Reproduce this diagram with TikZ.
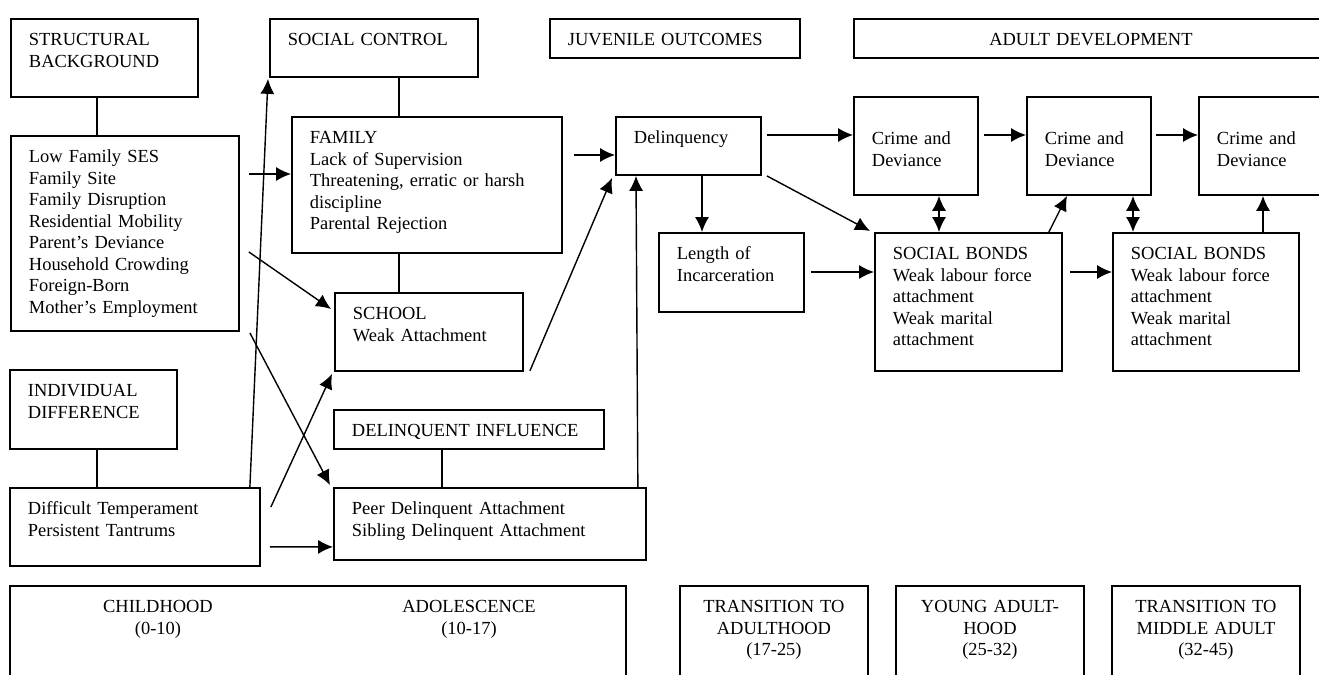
\documentclass[tikz,border=0pt]{standalone}
\usepackage{fontspec}
\setmainfont{Liberation Serif}
\usetikzlibrary{arrows.meta,calc}

\begin{document}
\begin{tikzpicture}[x=0.02cm,y=-0.02cm,line width=0.8pt,>={Latex[length=8.5pt,width=8pt]},
	every node/.style={font=\fontsize{10.5pt}{12.2pt}\selectfont},
	box/.style={draw,line width=1.1pt,anchor=north west,align=left,inner xsep=0.36cm,inner ysep=0pt,text height=0.54cm},
	cbox/.style={box,align=center}]
	\useasboundingbox (0,0) rectangle (1319,675);
	\node[box,text width=3.02cm,text depth=1.02cm] (1) at (10,18) {STRUCTURAL\\BACKGROUND};
	\node[box,text width=3.84cm,text depth=3.36cm] (2) at (10,135) {Low Family SES\\Family Site\\Family Disruption\\Residential Mobility\\Parent's Deviance\\Household Crowding\\Foreign-Born\\Mother's Employment};
	\node[box,text width=3.44cm,text depth=0.62cm] (3) at (269,18) {SOCIAL CONTROL};
	\node[box,text width=4.68cm,text depth=2.18cm] (4) at (291,116) {FAMILY\\Lack of Supervision\\Threatening, erratic or harsh\\discipline\\Parental Rejection};
	\node[box,text width=3.04cm,text depth=1.02cm] (5) at (334,292) {SCHOOL\\Weak Attachment};
	\node[box,text width=2.62cm,text depth=1.04cm] (6) at (9,369) {INDIVIDUAL\\DIFFERENCE};
	\node[box,text width=4.28cm,text depth=1.02cm] (7) at (9,487) {Difficult Temperament\\Persistent Tantrums};
	\node[box,text width=4.68cm,text depth=0.24cm] (8) at (333,409) {DELINQUENT INFLUENCE};
	\node[box,text width=5.52cm,text depth=0.90cm] (9) at (333,487) {Peer Delinquent Attachment\\Sibling Delinquent Attachment};
	\node[box,text width=4.28cm,text depth=0.24cm] (10) at (549,18) {JUVENILE OUTCOMES};
	\node[box,text width=2.18cm,text depth=0.62cm] (11) at (615,116) {Delinquency};
	\node[box,text width=2.18cm,text depth=1.04cm] (12) at (658,232) {Length of\\Incarceration};
	\node[cbox,text width=8.76cm,text depth=0.24cm] (13) at (853,18) {ADULT DEVELOPMENT};
	\node[box,text width=1.76cm,text height=0.96cm,text depth=1.0cm] (14) at (853,96) {Crime and\\Deviance};
	\node[box,text width=1.76cm,text height=0.96cm,text depth=1.0cm] (15) at (1026,96) {Crime and\\Deviance};
	\node[box,text width=1.76cm,text height=0.96cm,text depth=1.0cm] (16) at (1198,96) {Crime and\\Deviance};
	\node[box,text width=3.02cm,text depth=2.22cm] (17) at (874,232) {SOCIAL BONDS\\Weak labour force\\attachment\\Weak marital\\attachment};
	\node[box,text width=3.0cm,text depth=2.22cm] (18) at (1112,232) {SOCIAL BONDS\\Weak labour force\\attachment\\Weak marital\\attachment};
	% life stages
	\node[box,text width=11.6cm,text depth=1.46cm] (19) at (9,585) {};
	\node[align=center,anchor=base] (20) at (158,634) {CHILDHOOD\\(0-10)};
	\node[align=center,anchor=base] (21) at (469,634) {ADOLESCENCE\\(10-17)};
	\node[cbox,text width=3.04cm,text depth=1.46cm] (22) at (679,585) {TRANSITION TO\\ADULTHOOD\\(17-25)};
	\node[cbox,text width=3.04cm,text depth=1.46cm] (23) at (895,585) {YOUNG ADULT-\\HOOD\\(25-32)};
	\node[cbox,text width=3.04cm,text depth=1.46cm] (24) at (1111,585) {TRANSITION TO\\MIDDLE ADULT\\(32-45)};
	% links
	\draw [-] ($(1.south west)+(87,0)$)--($(2.north west)+(87,0)$);
	\draw [-] ($(3.south west)+(130,0)$)--($(4.north west)+(108,0)$);
	\draw [-] ($(4.south west)+(108,0)$)--($(5.north west)+(65,0)$);
	\draw [-] ($(6.south west)+(88,0)$)--($(7.north west)+(88,0)$);
	\draw [-] ($(8.south west)+(109,0)$)--($(9.north west)+(109,0)$);
	% arrows
	\draw [->] ($(2.north east)+(9,39)$)--($(4.north west)+(0,58)$);
	\draw [->] ($(2.north east)+(9,117)$)--($(5.north west)+(-3,17)$);
	\draw [->] ($(2.south east)+(10,1)$)--($(9.north west)+(-3,-2)$);
	\draw [->] ($(7.north east)+(-11,0)$)--($(3.south west)+(-1,1)$);
	\draw [->] ($(7.north east)+(10,20)$)--($(5.south west)+(-2,2)$);
	\draw [->] ($(7.south east)+(9,-20)$)--($(9.south west)+(0,-14)$);
	\draw [->] ($(4.north east)+(11,39)$)--($(11.north west)+(0,39)$);
	\draw [->] ($(5.south east)+(6,-1)$)--($(11.south west)+(-3,2)$);
	\draw [->] ($(9.north east)+(-9,0)$)--($(11.south west)+(21,0)$);
	\draw [->] ($(11.north east)+(5,19)$)--($(14.north west)+(0,39)$);
	\draw [->] ($(11.south west)+(87,0)$)--($(12.north west)+(44,0)$);
	\draw [->] ($(11.south east)+(5,0)$)--($(17.north west)+(-4,-1)$);
	\draw [->] ($(12.north east)+(6,40)$)--($(17.north west)+(0,40)$);
	\draw [->] ($(14.north east)+(5,39)$)--($(15.north west)+(0,39)$);
	\draw [->] ($(15.north east)+(4,39)$)--($(16.north west)+(0,39)$);
	\draw [<->] ($(14.south west)+(86,0)$)--($(17.north west)+(65,0)$);
	\draw [->] ($(17.north east)+(-14,0)$)--($(15.south west)+(41,0)$);
	\draw [->] ($(17.north east)+(7,40)$)--($(18.north west)+(0,40)$);
	\draw [<->] ($(15.south west)+(107,0)$)--($(18.north west)+(21,0)$);
	\draw [->] ($(18.north west)+(151,0)$)--($(16.south west)+(65,0)$);
\end{tikzpicture}
\end{document}
